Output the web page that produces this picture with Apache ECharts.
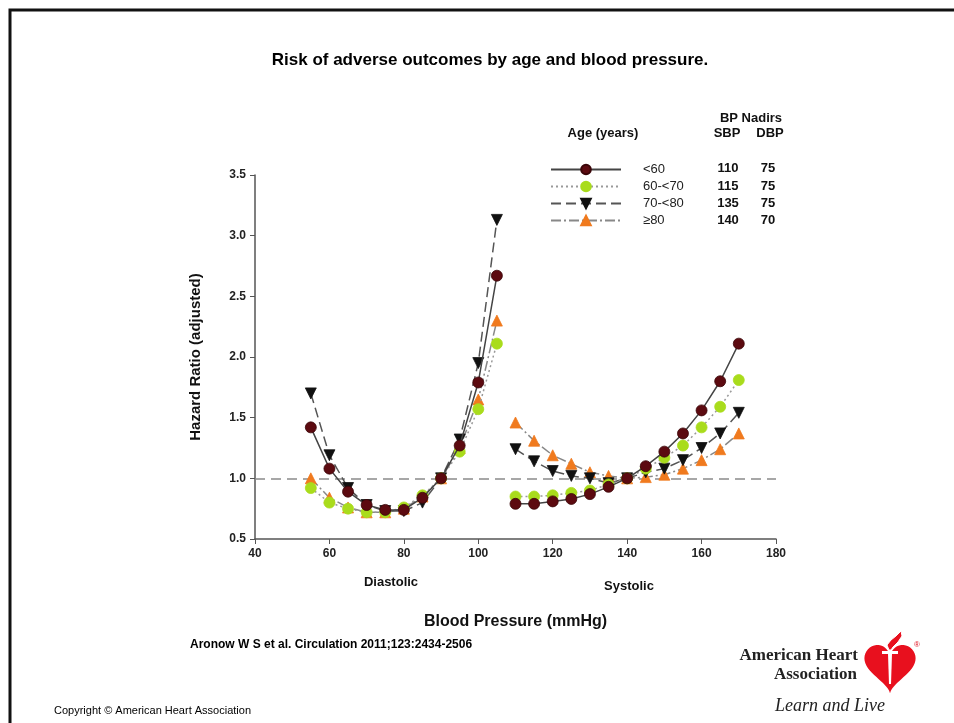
<!DOCTYPE html>
<html><head><meta charset="utf-8">
<script src="https://cdn.jsdelivr.net/npm/echarts@6/dist/echarts.min.js"></script>
<style>html,body{margin:0;padding:0;background:#fff}#c{width:954px;height:723px}</style>
</head><body><div id="c"></div>
<script>
var diastolicBP = [55, 60, 65, 70, 75, 80, 85, 90, 95, 100, 105];
var systolicBP = [110, 115, 120, 125, 130, 135, 140, 145, 150, 155, 160, 165, 170];
var groups = ['<60', '60-<70', '70-<80', '\u226580'];
var diaHR = {
  '<60':    [1.42, 1.08, 0.89, 0.78, 0.74, 0.74, 0.84, 1.00, 1.27, 1.79, 2.67],
  '60-<70': [0.92, 0.80, 0.75, 0.72, 0.72, 0.76, 0.86, 1.00, 1.22, 1.57, 2.11],
  '70-<80': [1.70, 1.19, 0.92, 0.78, 0.73, 0.73, 0.80, 1.00, 1.32, 1.95, 3.13],
  '\u226580':  [1.00, 0.84, 0.76, 0.72, 0.72, 0.75, 0.85, 1.00, 1.25, 1.65, 2.30]
};
var sysHR = {
  '<60':    [0.79, 0.79, 0.81, 0.83, 0.87, 0.93, 1.00, 1.10, 1.22, 1.37, 1.56, 1.80, 2.11],
  '60-<70': [0.85, 0.85, 0.86, 0.88, 0.90, 0.95, 1.00, 1.08, 1.17, 1.27, 1.42, 1.59, 1.81],
  '70-<80': [1.24, 1.14, 1.06, 1.02, 1.00, 0.96, 1.00, 1.05, 1.08, 1.15, 1.25, 1.37, 1.54],
  '\u226580':  [1.46, 1.31, 1.19, 1.12, 1.05, 1.02, 1.00, 1.01, 1.03, 1.08, 1.15, 1.24, 1.37]
};
var nadirSBP = ['110', '115', '135', '140'];
var nadirDBP = ['75', '75', '75', '70'];
var xTicks = {min: 40, max: 180, interval: 20};
var yTicks = {min: 0.5, max: 3.5, interval: 0.5};

var styles = {
  '<60':    {symbol: 'circle', rot: 0, size: 11, color: '#5c0a10', border: '#3a0508', line: '#444', type: 'solid', lw: 1.5},
  '60-<70': {symbol: 'circle', rot: 0, size: 11, color: '#a9dc1c', border: '#a9dc1c', line: '#999', type: [2, 3], lw: 1.5},
  '70-<80': {symbol: 'triangle', rot: 180, size: 11, color: '#111', border: '#111', line: '#555', type: [10, 5], lw: 1.5},
  '\u226580':  {symbol: 'triangle', rot: 0, size: 11, color: '#f07a1e', border: '#f07a1e', line: '#888', type: [10, 3, 2, 3], lw: 1.5}
};

function pairs(xs, ys) { return xs.map(function (x, i) { return [x, ys[i]]; }); }

var series = [];
groups.forEach(function (g, gi) {
  var s = styles[g];
  [[diastolicBP, diaHR[g]], [systolicBP, sysHR[g]]].forEach(function (seg, k) {
    var ser = {
      name: g, type: 'line', data: pairs(seg[0], seg[1]),
      symbol: s.symbol, symbolSize: s.size, symbolRotate: s.rot,
      z: 10 - gi,
      itemStyle: {color: s.color, borderColor: s.border, borderWidth: 0.8, opacity: 1},
      lineStyle: {color: s.line, type: s.type, width: s.lw},
      emphasis: {disabled: true}, animation: false
    };
    if (gi === 0 && k === 0) {
      ser.markLine = {
        silent: true, symbol: 'none', label: {show: false}, z: 1,
        lineStyle: {color: '#8a8a8a', type: [10, 6], width: 1.5},
        data: [{yAxis: 1.0}]
      };
    }
    series.push(ser);
  });
});

// heart outline for the logo (parametric shape)
function heartPoints(cx, cy, sc) {
  var pts = [];
  for (var i = 0; i < 80; i++) {
    var t = i / 80 * Math.PI * 2;
    var x = 16 * Math.pow(Math.sin(t), 3);
    var y = 13 * Math.cos(t) - 5 * Math.cos(2 * t) - 2 * Math.cos(3 * t) - Math.cos(4 * t);
    pts.push([cx + x * sc, cy - y * sc * 1.05]);
  }
  return pts;
}

var chart = echarts.init(document.getElementById('c'), null, {renderer: 'canvas'});
var F = 'Liberation Sans, Arial, sans-serif';
var SERIF = 'Liberation Serif, Times New Roman, serif';
function txt(t, x, y, font, align, fill) {
  return {type: 'text', x: x, y: y, silent: true,
    style: {text: t, font: font, fill: fill || '#111', align: align || 'center', verticalAlign: 'middle'}};
}
var graphic = [
  {type: 'rect', silent: true, shape: {x: 10, y: 10, width: 980, height: 760}, style: {fill: 'none', stroke: '#111', lineWidth: 3}},
  txt('Risk of adverse outcomes by age and blood pressure.', 490, 60, 'bold 17px ' + F, 'center', '#000'),
  txt('Age (years)', 603, 133, 'bold 13px ' + F),
  txt('BP Nadirs', 751, 118, 'bold 13px ' + F),
  txt('SBP', 727, 133, 'bold 13px ' + F),
  txt('DBP', 770, 133, 'bold 13px ' + F),
  txt('Diastolic', 391, 582, 'bold 13px ' + F),
  txt('Systolic', 629, 586, 'bold 13px ' + F),
  txt('Aronow W S et al. Circulation 2011;123:2434-2506', 190, 645, 'bold 12px ' + F, 'left', '#000'),
  txt('Copyright \u00a9 American Heart Association', 54, 711, '11px ' + F, 'left', '#000'),
  txt('American Heart', 858, 656, 'bold 17px ' + SERIF, 'right', '#222'),
  txt('Association', 857, 675, 'bold 17px ' + SERIF, 'right', '#222'),
  txt('Learn and Live', 830, 706, 'italic 18px ' + SERIF, 'center', '#222'),
  txt('\u00ae', 917, 645, '8px ' + F, 'center', '#e0101e'),
  {type: 'polygon', silent: true, shape: {points: heartPoints(890, 665, 1.6)}, style: {fill: '#e8101e'}},
  {type: 'rect', silent: true, shape: {x: 882, y: 651, width: 16, height: 3}, style: {fill: '#fff'}},
  {type: 'polygon', silent: true, shape: {points: [[888, 654], [892, 654], [891, 684], [889, 684]]}, style: {fill: '#fff'}},
  {type: 'polygon', silent: true, shape: {points: [[889, 650], [887, 645], [891, 640], [896, 636], [901, 631], [902, 636], [898, 642], [893, 647], [891, 650]]}, style: {fill: '#e8101e', stroke: '#fff', lineWidth: 1}}
];
var rowY = [168, 186, 203, 220];
nadirSBP.forEach(function (v, i) {
  graphic.push(txt(v, 728, rowY[i], 'bold 13px ' + F));
  graphic.push(txt(nadirDBP[i], 768, rowY[i], 'bold 13px ' + F));
});

chart.setOption({
  backgroundColor: '#fff',
  animation: false,
  grid: {left: 255, right: 178, top: 175, bottom: 184, containLabel: false},
  legend: {
    orient: 'vertical', left: 545, top: 158, itemWidth: 70, itemHeight: 12, itemGap: 4,
    data: groups, selectedMode: false,
    textStyle: {fontFamily: F, fontSize: 13, color: '#222', padding: [0, 0, 0, 17]}
  },
  xAxis: {
    type: 'value', min: xTicks.min, max: xTicks.max, interval: xTicks.interval,
    name: 'Blood Pressure (mmHg)', nameLocation: 'middle', nameGap: 75,
    nameTextStyle: {fontFamily: F, fontWeight: 'bold', fontSize: 16, color: '#111'},
    axisLine: {lineStyle: {color: '#555', width: 1.5}},
    axisTick: {show: true, length: 5, lineStyle: {color: '#555'}},
    axisLabel: {fontFamily: F, fontWeight: 'bold', fontSize: 12, color: '#222', margin: 9},
    splitLine: {show: false}
  },
  yAxis: {
    type: 'value', min: yTicks.min, max: yTicks.max, interval: yTicks.interval,
    name: 'Hazard Ratio (adjusted)', nameLocation: 'middle', nameGap: 52, nameRotate: 90,
    nameTextStyle: {fontFamily: F, fontWeight: 'bold', fontSize: 15, color: '#111'},
    axisLine: {show: true, lineStyle: {color: '#555', width: 1.5}},
    axisTick: {show: true, length: 5, lineStyle: {color: '#555'}},
    axisLabel: {fontFamily: F, fontWeight: 'bold', fontSize: 12, color: '#222', margin: 9,
      formatter: function (v) { return v.toFixed(1); }},
    splitLine: {show: false}
  },
  series: series,
  graphic: graphic
});
</script></body></html>
